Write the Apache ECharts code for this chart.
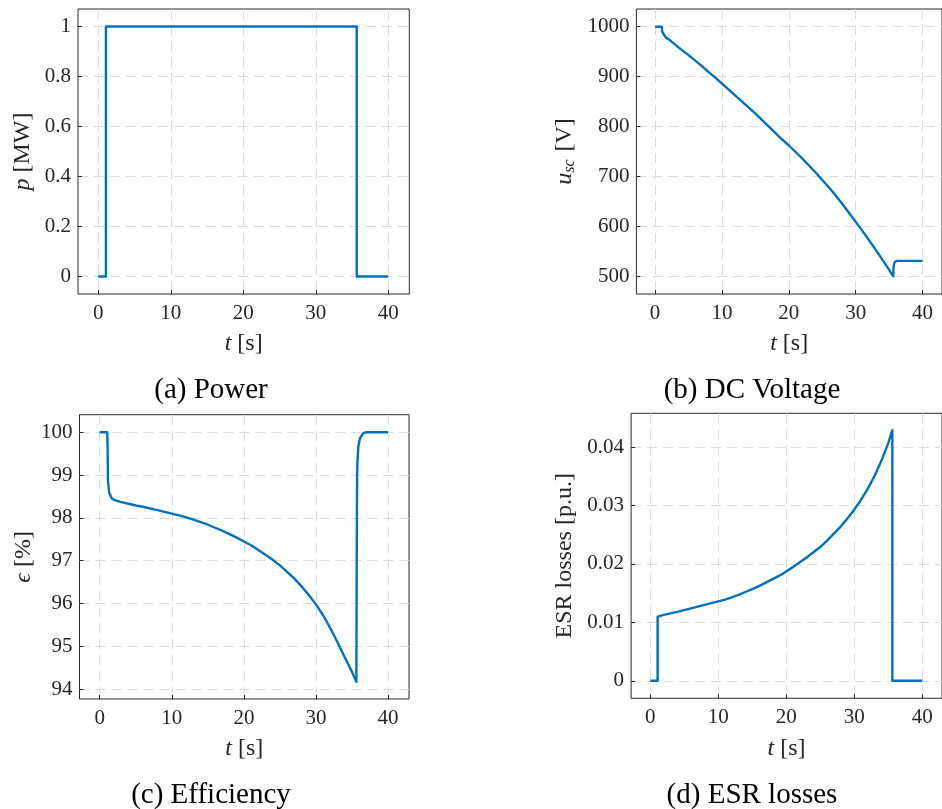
<!DOCTYPE html>
<html>
<head>
<meta charset="utf-8">
<script src="https://cdn.jsdelivr.net/npm/echarts@6/dist/echarts.min.js"></script>
<style>
html,body{margin:0;padding:0;background:#fff;}
#main{width:942px;height:809px;}
</style>
</head>
<body>
<div id="main"></div>
<script>
// ---- data ----
var xTicks = [0, 10, 20, 30, 40];

// (a) Power [MW]
var tPower = [0, 1.05, 1.05, 35.65, 35.65, 40];
var power  = [0, 0, 1, 1, 0, 0];
var powerTicks = [0, 0.2, 0.4, 0.6, 0.8, 1];

// (b) DC voltage [V]
var tVolt = [0, 1.0, 1.05, 1.15, 1.6, 2, 3, 4, 5, 6, 7, 8, 9, 10, 11, 12, 13, 14, 15, 16, 17, 18, 19, 20,
             21, 22, 23, 24, 25, 26, 27, 28, 29, 30, 31, 32, 33, 34, 35, 35.6, 35.65, 35.7, 35.85, 36.2, 40];
var volt  = [1000, 1000, 990, 986, 978, 975, 964, 953, 943, 932, 921, 909, 898, 886, 874, 862, 850, 838, 826, 813, 800, 787, 774, 762,
             749, 736, 722, 708, 693, 678, 662, 645, 627, 609, 591, 572, 553, 533, 513, 500, 515, 524, 529, 531, 531];
var voltTicks = [500, 600, 700, 800, 900, 1000];

// (c) Efficiency [%]
var tEff = [0, 1.05, 1.1, 1.15, 1.3, 1.66, 2, 3, 4, 5, 6, 7, 8, 9, 10, 11, 12, 13, 14, 15, 16, 17, 18, 19, 20,
            21, 22, 23, 24, 25, 26, 27, 28, 29, 30, 31, 32, 33, 34, 35, 35.6, 35.65, 35.7, 35.75, 35.87, 36.1, 36.56, 37, 40];
var eff  = [100, 100, 99.6, 98.85, 98.6, 98.46, 98.42, 98.37, 98.33, 98.29, 98.26, 98.22, 98.18, 98.14, 98.10, 98.06, 98.01, 97.96, 97.90, 97.84, 97.77, 97.70, 97.62, 97.54, 97.45,
            97.36, 97.25, 97.14, 97.02, 96.89, 96.74, 96.58, 96.40, 96.20, 95.98, 95.72, 95.42, 95.09, 94.74, 94.40, 94.17, 97.0, 99.0, 99.3, 99.66, 99.86, 99.98, 100, 100];
var effTicks = [94, 95, 96, 97, 98, 99, 100];

// (d) ESR losses [p.u.]
var tEsr = [0, 1.1, 1.1, 2, 3, 4, 5, 6, 7, 8, 9, 10, 11, 12, 13, 14, 15, 16, 17, 18, 19, 20,
            21, 22, 23, 24, 25, 26, 27, 28, 29, 30, 31, 32, 33, 34, 35, 35.6, 35.6, 40];
var esr  = [0, 0, 0.0110, 0.01128, 0.01155, 0.0118, 0.0121, 0.0124, 0.0127, 0.0130, 0.0133, 0.0136, 0.0139, 0.0143, 0.0147, 0.0152, 0.0157, 0.0162, 0.0168, 0.0174, 0.0180, 0.0187,
            0.0195, 0.0203, 0.0211, 0.0220, 0.0229, 0.0240, 0.0252, 0.0264, 0.0278, 0.0293, 0.0310, 0.0329, 0.0351, 0.0377, 0.0407, 0.0429, 0, 0];
var esrTicks = [0, 0.01, 0.02, 0.03, 0.04];

var captions = ['(a) Power', '(b) DC Voltage', '(c) Efficiency', '(d) ESR losses'];

// ---- styling ----
var FONT = '"Liberation Serif", "Times New Roman", serif';
var TXT = '#262626';
var BLUE = '#0072BD';

function zip(a, b) { return a.map(function (v, i) { return [v, b[i]]; }); }

var grids = [
  {left: 78,    top: 9,     width: 331.3, height: 285},
  {left: 636.4, top: 9,     width: 314.4, height: 285},
  {left: 79.5,  top: 414.7, width: 329.5, height: 284.3},
  {left: 631.1, top: 413.3, width: 320,   height: 285}
];
grids.forEach(function (g) {
  g.show = true; g.borderColor = '#262626'; g.borderWidth = 1; g.backgroundColor = 'transparent';
});

function plain(v) { return String(v); }

function xAxis(i) {
  return {
    gridIndex: i, type: 'value', min: -2.8, max: 42.9,
    axisLine: {show: false, onZero: false},
    axisTick: {show: true, inside: true, length: 4, customValues: xTicks, lineStyle: {color: TXT}},
    axisLabel: {customValues: xTicks, formatter: plain, color: TXT, fontFamily: FONT, fontSize: 21, margin: 9},
    splitLine: {show: true, lineStyle: {type: [10, 6], color: '#dcdcdc', width: 1}},
    name: '{i|t} [s]', nameLocation: 'middle', nameGap: 38,
    nameTextStyle: {color: TXT, fontFamily: FONT, fontSize: 24,
      rich: {i: {fontStyle: 'italic', fontFamily: FONT, fontSize: 24, color: TXT}}}
  };
}
function yAxis(i, min, max, ticks, name, gap) {
  return {
    gridIndex: i, type: 'value', min: min, max: max,
    axisLine: {show: false, onZero: false},
    axisTick: {show: true, inside: true, length: 4, customValues: ticks, lineStyle: {color: TXT}},
    axisLabel: {customValues: ticks, formatter: plain, color: TXT, fontFamily: FONT, fontSize: 21, margin: 7},
    splitLine: {show: true, lineStyle: {type: [10, 6], color: '#dcdcdc', width: 1}},
    name: name, nameLocation: 'middle', nameGap: gap,
    nameTextStyle: {color: TXT, fontFamily: FONT, fontSize: 24,
      rich: {
        i: {fontStyle: 'italic', fontFamily: FONT, fontSize: 24, color: TXT},
        s: {fontStyle: 'italic', fontFamily: FONT, fontSize: 16, color: TXT, padding: [10, 2, 0, 0]}
      }}
  };
}

function lineSeries(i, t, v) {
  return {
    type: 'line', xAxisIndex: i, yAxisIndex: i, data: zip(t, v),
    showSymbol: false, symbol: 'none', animation: false,
    lineStyle: {color: BLUE, width: 2.4, join: 'round'}, itemStyle: {color: BLUE}
  };
}

var captionPos = [[211, 390], [752, 390], [211, 795], [752, 795]];

var option = {
  backgroundColor: '#fff',
  animation: false,
  grid: grids,
  xAxis: [xAxis(0), xAxis(1), xAxis(2), xAxis(3)],
  yAxis: [
    yAxis(0, -0.07, 1.07, powerTicks, '{i|p} [MW]', 43),
    yAxis(1, 464.6, 1035.4, voltTicks, '{i|u}{s|sc} [V]', 59),
    yAxis(2, 93.77, 100.41, effTicks, '{i|ϵ} [%]', 44),
    yAxis(3, -0.003, 0.0458, esrTicks, 'ESR losses [p.u.]', 54)
  ],
  series: [
    lineSeries(0, tPower, power),
    lineSeries(1, tVolt, volt),
    lineSeries(2, tEff, eff),
    lineSeries(3, tEsr, esr)
  ],
  graphic: captions.map(function (c, i) {
    return {
      type: 'text', x: captionPos[i][0], y: captionPos[i][1],
      style: {text: c, fill: '#000', font: '29px ' + FONT, align: 'center', verticalAlign: 'middle'}
    };
  })
};

var chart = echarts.init(document.getElementById('main'), null, {renderer: 'canvas'});
chart.setOption(option);
</script>
</body>
</html>
